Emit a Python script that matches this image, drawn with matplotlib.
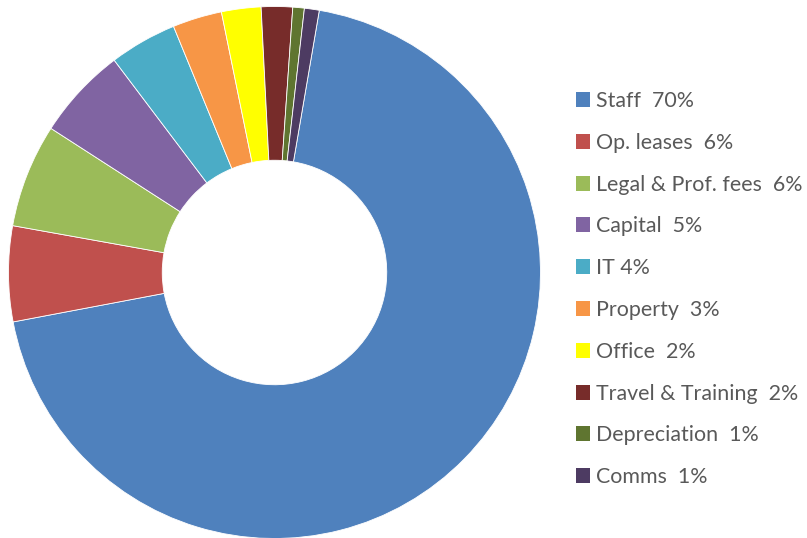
import matplotlib
matplotlib.use("Agg")
import matplotlib.pyplot as plt
from matplotlib.patches import Rectangle

categories = ["Staff", "Op. leases", "Legal & Prof. fees", "Capital", "IT",
              "Property", "Office", "Travel & Training", "Depreciation", "Comms"]
shares = [69.4, 5.8, 6.3, 5.6, 4.1, 3.0, 2.4, 1.9, 0.7, 0.9]
pct_labels = ["70%", "6%", "6%", "5%", "4%", "3%", "2%", "2%", "1%", "1%"]
separators = ["  ", "  ", "  ", "  ", " ", "  ", "  ", "  ", "  ", "  "]
colors = ["#4f81bd", "#c0504d", "#9bbb59", "#8064a2", "#4bacc6",
          "#f79646", "#ffff00", "#772c2a", "#5f7530", "#4d3b62"]

plt.rcParams["font.family"] = ["Lato", "DejaVu Sans"]

W, H = 807, 538
fig = plt.figure(figsize=(W / 100, H / 100), dpi=100)
ax = fig.add_axes([(274.5 - 266) / W, (H - 272.5 - 266) / H, 532 / W, 532 / H])

wedges, _ = ax.pie(shares, colors=colors, startangle=90 - 9.7, counterclock=False,
                   radius=1.0, wedgeprops=dict(width=0.578, edgecolor="white", linewidth=0.6))
ax.set_xlim(-1, 1)
ax.set_ylim(-1, 1)
ax.set_aspect("equal")
ax.axis("off")

# legend on the right, one row per category (pixel layout from the top)
labels = [f"{n}{s}{p}" for n, s, p in zip(categories, separators, pct_labels)]
for i, (lab, c) in enumerate(zip(labels, colors)):
    base = 107 + 41.8 * i
    fig.add_artist(Rectangle((576 / W, 1 - base / H), 14 / W, 15 / H,
                             transform=fig.transFigure, facecolor=c, edgecolor="none"))
    fig.text(596 / W, 1 - base / H, lab, fontsize=15.4, color="#595959",
             ha="left", va="baseline")

fig.savefig("out.png", dpi=100)
